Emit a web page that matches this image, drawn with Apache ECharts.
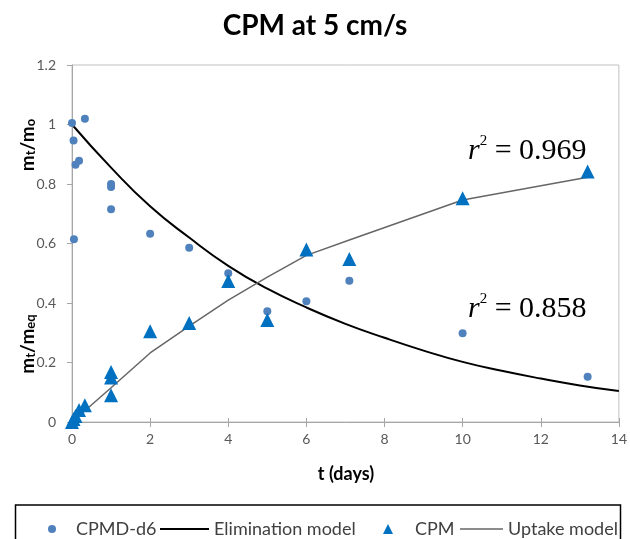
<!DOCTYPE html>
<html><head><meta charset="utf-8">
<script src="https://cdn.jsdelivr.net/npm/echarts@6/dist/echarts.min.js"></script>
<style>html,body{margin:0;padding:0;background:#fff}#c{width:630px;height:539px}</style>
</head><body><div id="c"></div>
<script>
// CPMD-d6 measurements (circles)
const circleT = [0, 0.33, 0.04, 0.09, 0.18, 1, 1, 1, 0.05, 2, 3, 4, 5, 6, 7.1, 10, 13.2];
const circleY = [1.005, 1.019, 0.946, 0.865, 0.878, 0.80, 0.79, 0.715, 0.614, 0.633, 0.586, 0.50, 0.372, 0.406, 0.475, 0.298, 0.152];
// CPM measurements (triangles)
const triT = [0, 0.04, 0.09, 0.18, 0.33, 1, 1, 1, 2, 3, 4, 5, 6, 7.1, 10, 13.2];
const triY = [0.0, 0.01, 0.02, 0.04, 0.056, 0.09, 0.15, 0.168, 0.305, 0.333, 0.474, 0.343, 0.58, 0.548, 0.752, 0.842];
// Elimination model
const elimT = [0, 1, 2, 3, 4, 5, 6, 7, 8, 9, 10, 11, 12, 13, 14];
const elimY = [1.0, 0.855, 0.725, 0.62, 0.525, 0.448, 0.385, 0.33, 0.283, 0.24, 0.202, 0.172, 0.146, 0.123, 0.104];
// Uptake model
const uptT = [0, 1, 2, 3, 4, 5, 6, 7.1, 10, 13.2];
const uptY = [0, 0.115, 0.232, 0.322, 0.41, 0.487, 0.56, 0.612, 0.746, 0.823];

const zip = (a, b) => a.map((v, i) => [v, b[i]]);
const chart = echarts.init(document.getElementById('c'));
const legText = {fontFamily: 'Lato', fontSize: 18, color: '#404040'};
const axisLab = {fontFamily: 'Lato', fontSize: 14, color: '#595959'};
const labRich = {
  m: {fontFamily: 'Lato', fontWeight: 'bold', fontSize: 19, lineHeight: 22, verticalAlign: 'bottom', fill: '#000'},
  s: {fontFamily: 'Lato', fontWeight: 'bold', fontSize: 13, lineHeight: 8, verticalAlign: 'bottom', fill: '#000'}
};
const rRich = {
  i: {fontFamily: 'Liberation Serif', fontStyle: 'italic', fontSize: 30, lineHeight: 32, verticalAlign: 'bottom', fill: '#000'},
  p: {fontFamily: 'Liberation Serif', fontSize: 15, lineHeight: 30, verticalAlign: 'top', fill: '#000'},
  n: {fontFamily: 'Liberation Serif', fontSize: 30, lineHeight: 32, verticalAlign: 'bottom', fill: '#000'}
};

chart.setOption({
  animation: false,
  backgroundColor: '#fff',
  title: {
    text: 'CPM at 5 cm/s', left: 'center', top: 7,
    textStyle: {fontFamily: 'Lato', fontWeight: 'bold', fontSize: 28, color: '#000'}
  },
  grid: {left: 72, right: 10, top: 65, bottom: 117, show: true, borderColor: '#c0c0c0', borderWidth: 1},
  xAxis: [{
    type: 'value', min: 0, max: 14, interval: 2,
    axisLine: {lineStyle: {color: '#a6a6a6', width: 1}},
    axisTick: {show: true, length: 5, lineStyle: {color: '#a6a6a6'}},
    splitLine: {show: false},
    axisLabel: Object.assign({margin: 10}, axisLab)
  }, {
    type: 'value', min: 0, max: 14, interval: 2, position: 'bottom',
    axisLine: {show: false},
    axisTick: {show: true, inside: true, length: 4, lineStyle: {color: '#a6a6a6'}},
    axisLabel: {show: false}, splitLine: {show: false}
  }],
  yAxis: {
    type: 'value', min: 0, max: 1.2, interval: 0.2,
    axisLine: {show: true, lineStyle: {color: '#a6a6a6', width: 1}},
    axisTick: {show: true, length: 5, lineStyle: {color: '#a6a6a6'}},
    splitLine: {show: false},
    axisLabel: Object.assign({margin: 16}, axisLab)
  },
  legend: [
    {data: ['CPMD-d6'], left: 43, top: 515, itemWidth: 8, itemHeight: 8, icon: 'circle',
     textStyle: Object.assign({padding: [0, 0, 0, 15]}, legText)},
    {data: ['Elimination model'], left: 155, top: 515, itemWidth: 49, itemHeight: 2, icon: 'rect',
     textStyle: legText},
    {data: ['CPM'], left: 378, top: 515, itemWidth: 10, itemHeight: 10, icon: 'triangle',
     textStyle: Object.assign({padding: [0, 0, 0, 17]}, legText)},
    {data: ['Uptake model'], left: 455, top: 515, itemWidth: 43, itemHeight: 1.5, icon: 'rect',
     textStyle: legText}
  ],
  graphic: [
    {type: 'rect', shape: {x: 15.5, y: 505, width: 605, height: 60},
     style: {fill: 'none', stroke: '#000', lineWidth: 1.5}, z: -1},
    {type: 'text', x: 26, y: 145, rotation: Math.PI / 2,
     style: {text: '{m|m}{s|t}{m|/m}{s|o}', align: 'center', verticalAlign: 'middle', rich: labRich}},
    {type: 'text', x: 26, y: 344, rotation: Math.PI / 2,
     style: {text: '{m|m}{s|t}{m|/m}{s|eq}', align: 'center', verticalAlign: 'middle', rich: labRich}},
    {type: 'text', x: 346, y: 474,
     style: {text: 't (days)', align: 'center', verticalAlign: 'middle',
       fontFamily: 'Lato', fontWeight: 'bold', fontSize: 18, fill: '#000'}},
    {type: 'text', x: 468, y: 150,
     style: {text: '{i|r}{p|2}{n| = 0.969}', align: 'left', verticalAlign: 'middle', rich: rRich}},
    {type: 'text', x: 468, y: 308,
     style: {text: '{i|r}{p|2}{n| = 0.858}', align: 'left', verticalAlign: 'middle', rich: rRich}}
  ],
  series: [
    {name: 'CPMD-d6', type: 'scatter', data: zip(circleT, circleY), symbol: 'circle', symbolSize: 8,
     itemStyle: {color: '#4F81BD', opacity: 1}, z: 3},
    {name: 'Elimination model', type: 'line', data: zip(elimT, elimY), showSymbol: false, smooth: true,
     lineStyle: {color: '#000', width: 2}, itemStyle: {color: '#000'}, z: 2},
    {name: 'CPM', type: 'scatter', data: zip(triT, triY), symbol: 'triangle', symbolSize: 14,
     itemStyle: {color: '#0070C0', opacity: 1}, z: 4},
    {name: 'Uptake model', type: 'line', data: zip(uptT, uptY), showSymbol: false, smooth: false,
     lineStyle: {color: '#666', width: 1.5}, itemStyle: {color: '#666'}, z: 2}
  ]
});
</script></body></html>
